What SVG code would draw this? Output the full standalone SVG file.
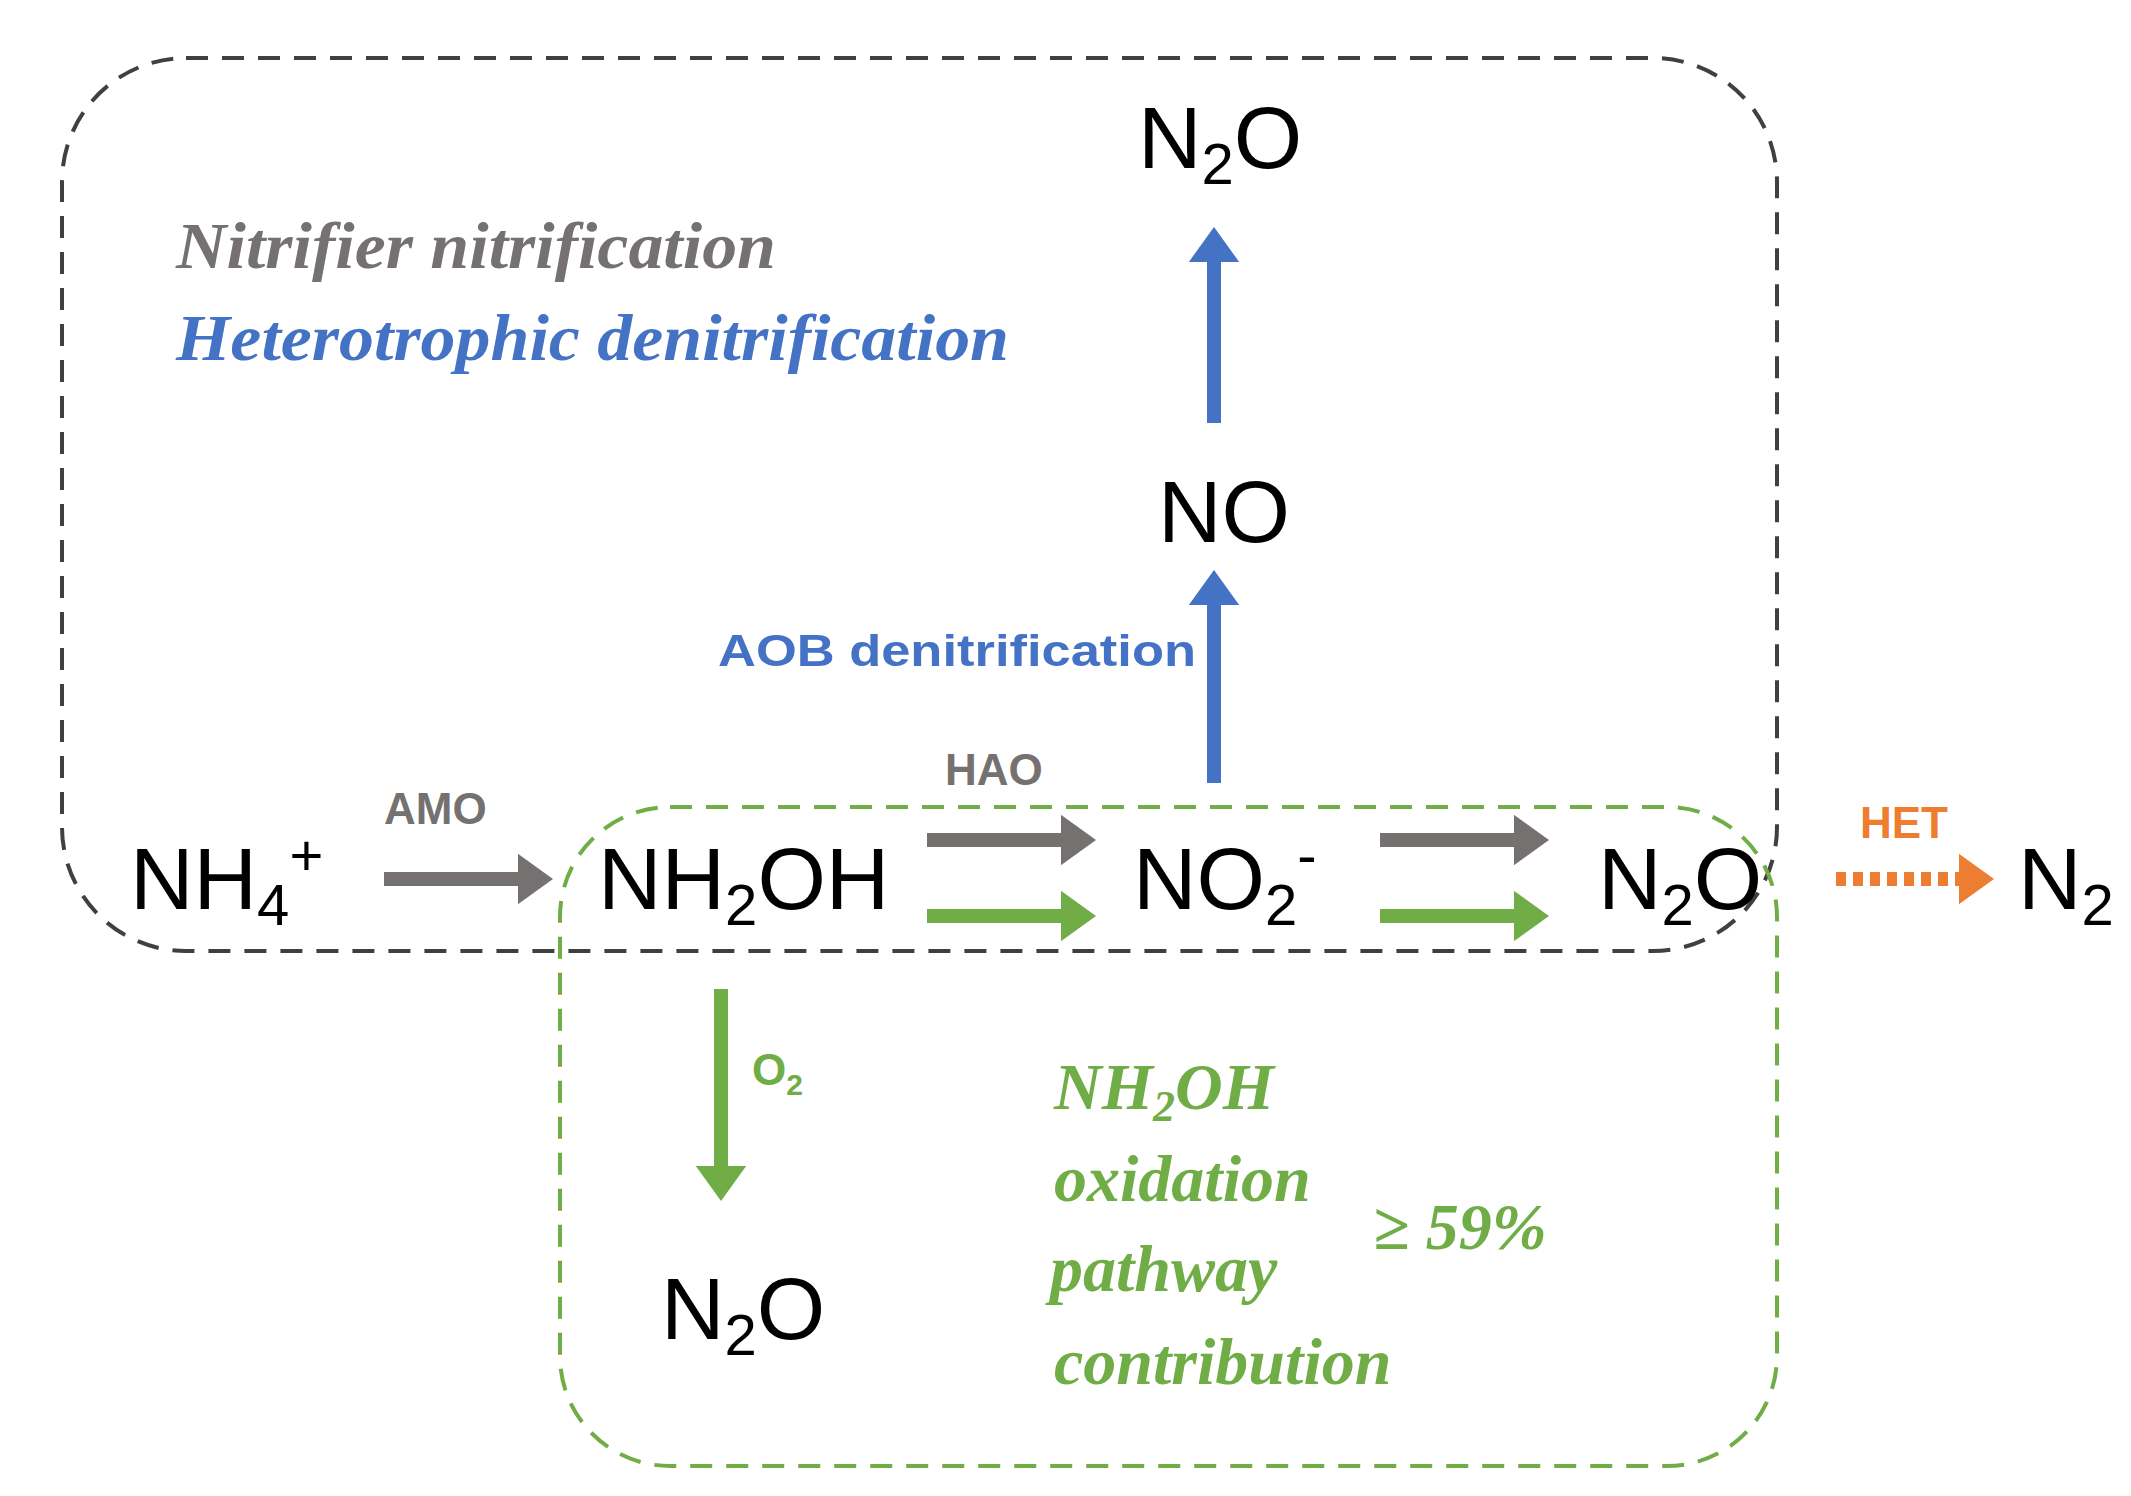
<svg xmlns="http://www.w3.org/2000/svg" width="2131" height="1496" viewBox="0 0 2131 1496">
<style>
.chem{font-family:"Liberation Sans",Arial,sans-serif;font-size:88px;fill:#000}
.lbl{font-family:"Liberation Sans",Arial,sans-serif;font-size:44px;font-weight:bold}
.it{font-family:"Liberation Serif","Times New Roman",serif;font-style:italic;font-weight:bold;font-size:66px}
.gray{fill:#767171}.blue{fill:#4472C4}.green{fill:#70AD47}.orange{fill:#ED7D31}
</style>
<defs>
<marker id="hg" markerWidth="3" markerHeight="3.6" refX="0.5" refY="1.8" orient="auto" markerUnits="strokeWidth"><path d="M0,0L2.5,1.8L0,3.6Z" fill="#767171"/></marker>
<marker id="hgr" markerWidth="3" markerHeight="3.6" refX="0.5" refY="1.8" orient="auto" markerUnits="strokeWidth"><path d="M0,0L2.5,1.8L0,3.6Z" fill="#70AD47"/></marker>
<marker id="hb" markerWidth="3" markerHeight="3.6" refX="0.5" refY="1.8" orient="auto" markerUnits="strokeWidth"><path d="M0,0L2.5,1.8L0,3.6Z" fill="#4472C4"/></marker>
<marker id="ho" markerWidth="3" markerHeight="3.6" refX="0.5" refY="1.8" orient="auto" markerUnits="strokeWidth"><path d="M0,0L2.5,1.8L0,3.6Z" fill="#ED7D31"/></marker>
</defs>
<rect width="2131" height="1496" fill="#fff"/>
<g id="boxes">
<rect id="box-nitrifier" x="62" y="58" width="1715" height="893" rx="124" fill="none" stroke="#404040" stroke-width="4" stroke-dasharray="22,14"/>
<rect id="box-nh2oh" x="560" y="807" width="1217" height="659" rx="110" fill="none" stroke="#70AD47" stroke-width="4" stroke-dasharray="22,14"/>
</g>
<g id="connectors" fill="none" stroke-width="14">
<line x1="384" y1="879" x2="525" y2="879" stroke="#767171" marker-end="url(#hg)"/>
<line x1="927" y1="840" x2="1068" y2="840" stroke="#767171" marker-end="url(#hg)"/>
<line x1="927" y1="916" x2="1068" y2="916" stroke="#70AD47" marker-end="url(#hgr)"/>
<line x1="1380" y1="840" x2="1521" y2="840" stroke="#767171" marker-end="url(#hg)"/>
<line x1="1380" y1="916" x2="1521" y2="916" stroke="#70AD47" marker-end="url(#hgr)"/>
<line x1="1214" y1="783" x2="1214" y2="598" stroke="#4472C4" marker-end="url(#hb)"/>
<line x1="1214" y1="423" x2="1214" y2="255" stroke="#4472C4" marker-end="url(#hb)"/>
<line x1="721" y1="989" x2="721" y2="1173" stroke="#70AD47" marker-end="url(#hgr)"/>
<line x1="1836" y1="879" x2="1966" y2="879" stroke="#ED7D31" stroke-dasharray="10,7" marker-end="url(#ho)"/>
</g>
<g id="legend">
<text class="it gray" x="176" y="268" textLength="600" lengthAdjust="spacingAndGlyphs">Nitrifier nitrification</text>
<text class="it blue" x="176" y="360" textLength="833" lengthAdjust="spacingAndGlyphs">Heterotrophic denitrification</text>
</g>
<g id="n-nh4"><text class="chem" x="130" y="909">NH<tspan font-size="58" dy="16">4</tspan><tspan font-size="58" dy="-50">+</tspan></text></g>
<g id="n-nh2oh"><text class="chem" x="598" y="909">NH<tspan font-size="58" dy="16">2</tspan><tspan dy="-16">OH</tspan></text></g>
<g id="n-no2"><text class="chem" x="1133" y="909">NO<tspan font-size="58" dy="16">2</tspan><tspan font-size="58" dy="-50">-</tspan></text></g>
<g id="n-n2o-right"><text class="chem" x="1598" y="909">N<tspan font-size="58" dy="16">2</tspan><tspan dy="-16">O</tspan></text></g>
<g id="n-n2"><text class="chem" x="2018" y="909">N<tspan font-size="58" dy="16">2</tspan></text></g>
<g id="n-no"><text class="chem" x="1158" y="542">NO</text></g>
<g id="n-n2o-top"><text class="chem" x="1138" y="168">N<tspan font-size="58" dy="16">2</tspan><tspan dy="-16">O</tspan></text></g>
<g id="n-n2o-bottom"><text class="chem" x="661" y="1339">N<tspan font-size="58" dy="16">2</tspan><tspan dy="-16">O</tspan></text></g>
<g id="labels">
<text class="lbl gray" x="384" y="824">AMO</text>
<text class="lbl gray" x="945" y="785">HAO</text>
<text class="lbl orange" x="1860" y="838">HET</text>
<text class="lbl blue" x="718" y="666" font-size="50" textLength="478" lengthAdjust="spacingAndGlyphs">AOB denitrification</text>
<text class="lbl green" x="752" y="1085" font-weight="normal" font-size="42">O<tspan font-size="30" dy="10">2</tspan></text>
</g>
<g id="note">
<text class="it green" x="1054" y="1109">NH<tspan font-size="44" dy="12">2</tspan><tspan dy="-12">OH</tspan></text>
<text class="it green" x="1054" y="1201">oxidation</text>
<text class="it green" x="1050" y="1291">pathway</text>
<text class="it green" x="1054" y="1384">contribution</text>
<text class="it green" x="1373" y="1249">≥ 59%</text>
</g>
</svg>
